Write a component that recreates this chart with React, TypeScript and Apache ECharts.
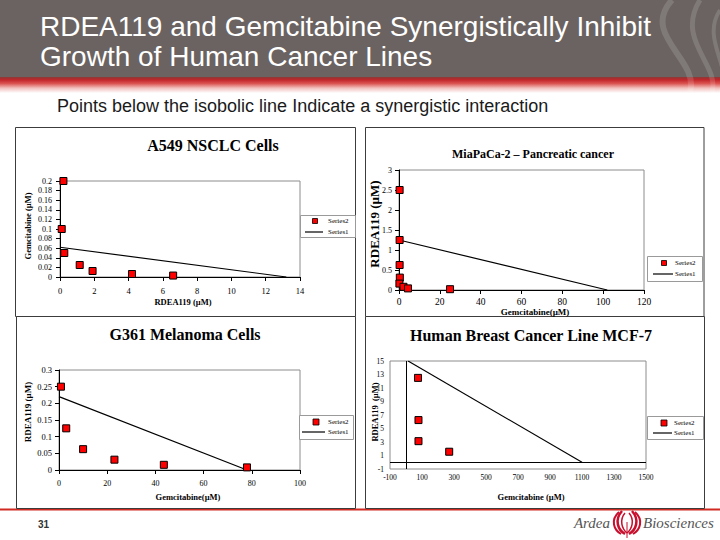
import React, { useEffect, useRef } from "react";
import * as echarts from "echarts";

// ---------- Data ----------
// A549 NSCLC: x = RDEA119 (µM), y = Gemcitabine (µM)
const a549Rdea119 = [0.2, 0.1, 0.25, 1.15, 1.9, 4.2, 6.6];
const a549Gemcitabine = [0.2, 0.1, 0.05, 0.025, 0.0125, 0.00625, 0.003];
const a549IsoboleX = [0, 13.2];
const a549IsoboleY = [0.062, 0];

// MiaPaCa-2: x = Gemcitabine (µM), y = RDEA119 (µM)
const miaGemcitabine = [0.3, 0.3, 0.3, 0.4, 0.2, 2.2, 4.4, 25];
const miaRdea119 = [2.5, 1.25, 0.625, 0.31, 0.16, 0.08, 0.04, 0.02];
const miaIsoboleX = [0, 102];
const miaIsoboleY = [1.25, 0];

// G361 Melanoma: x = Gemcitabine (µM), y = RDEA119 (µM)
const g361Gemcitabine = [0.8, 3, 10, 23, 43.5, 78];
const g361Rdea119 = [0.25, 0.125, 0.0625, 0.031, 0.0156, 0.0078];
const g361IsoboleX = [0, 78];
const g361IsoboleY = [0.22, 0];

// MCF-7: x = Gemcitabine (µM), y = RDEA119 (µM)
const mcfGemcitabine = [75, 78, 78, 270];
const mcfRdea119 = [12.5, 6.25, 3.125, 1.56];
const mcfIsoboleX = [13, 1100];
const mcfIsoboleY = [15, 0];

const panelTitles = [
  "A549 NSCLC Cells",
  "MiaPaCa-2 \u2013 Pancreatic cancer",
  "G361 Melanoma Cells",
  "Human Breast Cancer Line MCF-7",
];
const xAxisNames = ["RDEA119 (\u00b5M)", "Gemcitabine(\u00b5M)", "Gemcitabine(\u00b5M)", "Gemcitabine (\u00b5M)"];
const yAxisNames = ["Gemcitabine (\u00b5M)", "RDEA119 (\u00b5M)", "RDEA119 (\u00b5M)", "RDEA119  (\u00b5M)"];
const seriesNames = ["Series2", "Series1"];

// axis ranges [min, max, interval]
const xRanges = [
  [0, 14, 2],
  [0, 120, 20],
  [0, 100, 20],
  [-100, 1500, 200],
];
const yRanges = [
  [0, 0.2, 0.02],
  [0, 3, 0.5],
  [0, 0.3, 0.05],
  [-1, 15, 2],
];

const slideTitle = ["RDEA119 and Gemcitabine Synergistically Inhibit", "Growth of Human Cancer Lines"];
const subtitle = "Points below the isobolic line Indicate a synergistic interaction";
const pageNumber = "31";

const zip = (xs: number[], ys: number[]) => xs.map((x, i) => [x, ys[i]]);

const SERIF = "Liberation Serif";
const SANS = "Liberation Sans";

const grids = [
  { left: 60, top: 181, width: 240, height: 96 },
  { left: 399, top: 170, width: 245, height: 120 },
  { left: 59, top: 370, width: 241, height: 100 },
  { left: 390, top: 361, width: 256, height: 108 },
];

const labelFont = [
  { x: 8.5, y: 8, xm: 9, ym: 8 },
  { x: 9.5, y: 8, xm: 7, ym: 7 },
  { x: 8, y: 8.5, xm: 9, ym: 7 },
  { x: 7.5, y: 7.5, xm: 4, ym: 6 },
];

function buildOption() {
  const scatterData = [
    zip(a549Rdea119, a549Gemcitabine),
    zip(miaGemcitabine, miaRdea119),
    zip(g361Gemcitabine, g361Rdea119),
    zip(mcfGemcitabine, mcfRdea119),
  ];
  const lineData = [
    zip(a549IsoboleX, a549IsoboleY),
    zip(miaIsoboleX, miaIsoboleY),
    zip(g361IsoboleX, g361IsoboleY),
    zip(mcfIsoboleX, mcfIsoboleY),
  ];

  const fmt = (v: number) => String(Math.round(v * 10000) / 10000);

  const xAxis = xRanges.map((r, i) => ({
    type: "value",
    gridIndex: i,
    min: r[0],
    max: r[1],
    interval: r[2],
    axisLine: { show: i !== 3, onZero: false, lineStyle: { color: "#000", width: 1 } },
    axisTick: { show: i !== 3, inside: false, length: 4, lineStyle: { color: "#000" } },
    splitLine: { show: false },
    axisLabel: {
      color: "#000",
      fontFamily: SERIF,
      fontSize: labelFont[i].x,
      margin: labelFont[i].xm,
      formatter: fmt,
    },
  }));
  const yAxis = yRanges.map((r, i) => ({
    type: "value",
    gridIndex: i,
    min: r[0],
    max: r[1],
    interval: r[2],
    axisLine: { show: i !== 3, onZero: false, lineStyle: { color: "#000", width: 1 } },
    axisTick: { show: i !== 3, inside: false, length: 4, lineStyle: { color: "#000" } },
    splitLine: { show: false },
    axisLabel: {
      color: "#000",
      fontFamily: SERIF,
      fontSize: labelFont[i].y,
      margin: labelFont[i].ym,
      formatter: fmt,
    },
  }));

  const series: any[] = [];
  for (let i = 0; i < 4; i++) {
    series.push({
      name: seriesNames[1],
      type: "line",
      xAxisIndex: i,
      yAxisIndex: i,
      data: lineData[i],
      symbol: "none",
      lineStyle: { color: "#000", width: 1.2 },
      z: 2,
    });
    const sc: any = {
      name: seriesNames[0],
      type: "scatter",
      xAxisIndex: i,
      yAxisIndex: i,
      data: scatterData[i],
      symbol: "rect",
      symbolSize: 7,
      itemStyle: { color: "#ff0000", borderColor: "#000", borderWidth: 1, opacity: 1 },
      z: 3,
    };
    if (i === 3) {
      sc.markLine = {
        silent: true,
        symbol: ["none", "none"],
        label: { show: false },
        lineStyle: { color: "#000", width: 1, type: "solid" },
        data: [{ xAxis: 0 }, { yAxis: 0 }],
      };
    }
    series.push(sc);
  }

  const graphic: any[] = [];

  // header background
  graphic.push({ type: "rect", z: -20, shape: { x: 0, y: 0, width: 720, height: 79 }, style: { fill: "#6b6361" } });
  graphic.push({
    type: "rect",
    z: -20,
    shape: { x: 0, y: 77, width: 720, height: 16 },
    style: {
      fill: new echarts.graphic.LinearGradient(0, 0, 0, 1, [
        { offset: 0, color: "#8a3a37" },
        { offset: 0.18, color: "#c3262a" },
        { offset: 0.4, color: "#d9524f" },
        { offset: 0.7, color: "#f2c2bf" },
        { offset: 1, color: "#ffffff" },
      ]),
    },
  });
  // decorative curves on the right of header
  const curves = [
    { x1: 672, y1: 0, cpx1: 640, cpy1: 35, cpx2: 700, cpy2: 60, x2: 690, y2: 92, w: 6 },
    { x1: 700, y1: 0, cpx1: 675, cpy1: 40, cpx2: 720, cpy2: 65, x2: 712, y2: 92, w: 5 },
    { x1: 720, y1: 10, cpx1: 700, cpy1: 40, cpx2: 735, cpy2: 70, x2: 720, y2: 92, w: 4 },
  ];
  curves.forEach((c) =>
    graphic.push({
      type: "bezierCurve",
      z: -19,
      shape: { x1: c.x1, y1: c.y1, cpx1: c.cpx1, cpy1: c.cpy1, cpx2: c.cpx2, cpy2: c.cpy2, x2: c.x2, y2: c.y2 },
      style: { stroke: "rgba(255,255,255,0.14)", lineWidth: c.w, fill: "none" },
    })
  );
  graphic.push({
    type: "text",
    z: 10,
    x: 40,
    y: 26,
    style: { text: slideTitle[0], font: `28px ${SANS}`, fill: "#ffffff", textVerticalAlign: "middle" },
  });
  graphic.push({
    type: "text",
    z: 10,
    x: 40,
    y: 56,
    style: { text: slideTitle[1], font: `28px ${SANS}`, fill: "#ffffff", textVerticalAlign: "middle" },
  });
  graphic.push({
    type: "text",
    z: 10,
    x: 57,
    y: 106,
    style: { text: subtitle, font: `18px ${SANS}`, fill: "#1a1a1a", textVerticalAlign: "middle" },
  });

  // footer red line
  graphic.push({ type: "rect", z: -20, shape: { x: 0, y: 508.5, width: 720, height: 2 }, style: { fill: "#d02a22" } });

  // panel frames
  const frames = [
    { x: 15.5, y: 127.5, w: 340, h: 189 },
    { x: 365.5, y: 127.5, w: 338.5, h: 189 },
    { x: 16.5, y: 316.5, w: 339, h: 192 },
    { x: 365.5, y: 316.5, w: 339, h: 192 },
  ];
  frames.forEach((f) =>
    graphic.push({
      type: "rect",
      z: -15,
      shape: { x: f.x, y: f.y, width: f.w, height: f.h },
      style: { fill: "#ffffff", stroke: "#3c3c3c", lineWidth: 1 },
    })
  );

  // panel titles
  const titlePos = [
    { x: 213, y: 145, size: 16 },
    { x: 533, y: 154, size: 12 },
    { x: 185, y: 334, size: 16 },
    { x: 531, y: 335, size: 16 },
  ];
  titlePos.forEach((t, i) =>
    graphic.push({
      type: "text",
      z: 10,
      x: t.x,
      y: t.y,
      style: {
        text: panelTitles[i],
        font: `bold ${t.size}px ${SERIF}`,
        fill: "#000",
        textAlign: "center",
        textVerticalAlign: "middle",
      },
    })
  );

  // axis names
  const xNamePos = [
    { x: 183, y: 302, size: 8.5 },
    { x: 535, y: 311.5, size: 9 },
    { x: 188, y: 497, size: 8.5 },
    { x: 531, y: 497, size: 8.5 },
  ];
  const yNamePos = [
    { x: 28, y: 226, size: 8.5 },
    { x: 374, y: 224, size: 13 },
    { x: 28, y: 412, size: 9 },
    { x: 375, y: 412, size: 8.5 },
  ];
  xNamePos.forEach((t, i) =>
    graphic.push({
      type: "text",
      z: 10,
      x: t.x,
      y: t.y,
      style: {
        text: xAxisNames[i],
        font: `bold ${t.size}px ${SERIF}`,
        fill: "#000",
        textAlign: "center",
        textVerticalAlign: "middle",
      },
    })
  );
  yNamePos.forEach((t, i) =>
    graphic.push({
      type: "text",
      z: 10,
      x: t.x,
      y: t.y,
      rotation: Math.PI / 2,
      style: {
        text: yAxisNames[i],
        font: `bold ${t.size}px ${SERIF}`,
        fill: "#000",
        textAlign: "center",
        textVerticalAlign: "middle",
      },
    })
  );

  // legends
  const legends = [
    { x: 300, y: 215, w: 55, h: 22, mx: 315, my: 221, ms: 5, lx1: 305, lx2: 323, ly: 232, tx: 328 },
    { x: 647, y: 256, w: 55, h: 25, mx: 664, my: 263, ms: 5, lx1: 653, lx2: 673, ly: 274, tx: 675 },
    { x: 299, y: 415, w: 54, h: 24, mx: 316, my: 422, ms: 6, lx1: 302, lx2: 325, ly: 432, tx: 328 },
    { x: 647, y: 416, w: 56, h: 23, mx: 664, my: 423, ms: 6, lx1: 653, lx2: 672, ly: 433, tx: 674 },
  ];
  legends.forEach((l) => {
    graphic.push({
      type: "rect",
      z: 10,
      shape: { x: l.x + 0.5, y: l.y + 0.5, width: l.w, height: l.h },
      style: { fill: "#fff", stroke: "#9a9a9a", lineWidth: 1 },
    });
    graphic.push({
      type: "rect",
      z: 11,
      shape: { x: l.mx - l.ms / 2, y: l.my - l.ms / 2, width: l.ms, height: l.ms },
      style: { fill: "#ff0000", stroke: "#000", lineWidth: 0.8 },
    });
    graphic.push({
      type: "line",
      z: 11,
      shape: { x1: l.lx1, y1: l.ly, x2: l.lx2, y2: l.ly },
      style: { stroke: "#000", lineWidth: 1.2 },
    });
    graphic.push({
      type: "text",
      z: 11,
      x: l.tx,
      y: l.my,
      style: { text: seriesNames[0], font: `7px ${SERIF}`, fill: "#000", textVerticalAlign: "middle" },
    });
    graphic.push({
      type: "text",
      z: 11,
      x: l.tx,
      y: l.ly,
      style: { text: seriesNames[1], font: `7px ${SERIF}`, fill: "#000", textVerticalAlign: "middle" },
    });
  });

  // footer page number + logo
  graphic.push({
    type: "text",
    z: 10,
    x: 38,
    y: 524,
    style: { text: pageNumber, font: `bold 10px ${SANS}`, fill: "#333", textVerticalAlign: "middle" },
  });
  graphic.push({
    type: "text",
    z: 10,
    x: 610,
    y: 523,
    style: { text: "Ardea", font: `italic 15px ${SERIF}`, fill: "#555", textAlign: "right", textVerticalAlign: "middle" },
  });
  graphic.push({
    type: "text",
    z: 10,
    x: 643,
    y: 523,
    style: { text: "Biosciences", font: `italic 15px ${SERIF}`, fill: "#555", textVerticalAlign: "middle" },
  });
  const flame = [
    { x1: 619, y1: 512, cpx1: 610, cpy1: 520, cpx2: 614, cpy2: 530, x2: 621, y2: 534, w: 2 },
    { x1: 622, y1: 511, cpx1: 614, cpy1: 520, cpx2: 618, cpy2: 530, x2: 625, y2: 534, w: 2.5 },
    { x1: 625, y1: 513, cpx1: 619, cpy1: 520, cpx2: 622, cpy2: 529, x2: 627, y2: 533, w: 1.5 },
    { x1: 635, y1: 512, cpx1: 644, cpy1: 520, cpx2: 640, cpy2: 530, x2: 633, y2: 534, w: 2 },
    { x1: 632, y1: 511, cpx1: 640, cpy1: 520, cpx2: 636, cpy2: 530, x2: 629, y2: 534, w: 2.5 },
    { x1: 629, y1: 513, cpx1: 635, cpy1: 520, cpx2: 632, cpy2: 529, x2: 627, y2: 533, w: 1.5 },
  ];
  flame.forEach((c) =>
    graphic.push({
      type: "bezierCurve",
      z: 10,
      shape: { x1: c.x1, y1: c.y1, cpx1: c.cpx1, cpy1: c.cpy1, cpx2: c.cpx2, cpy2: c.cpy2, x2: c.x2, y2: c.y2 },
      style: { stroke: "#c8102e", lineWidth: c.w, fill: "none" },
    })
  );
  graphic.push({
    type: "line",
    z: 10,
    shape: { x1: 627, y1: 522, x2: 627, y2: 538 },
    style: { stroke: "#c8102e", lineWidth: 1 },
  });

  return {
    animation: false,
    backgroundColor: "#ffffff",
    textStyle: { fontFamily: SERIF },
    grid: grids.map((g) => ({
      ...g,
      show: true,
      borderColor: "#8c8c8c",
      borderWidth: 1,
      backgroundColor: "transparent",
      containLabel: false,
    })),
    xAxis,
    yAxis,
    series,
    graphic: { elements: graphic },
  };
}

export default function App() {
  const ref = useRef<HTMLDivElement>(null);
  useEffect(() => {
    if (!ref.current) return;
    const chart = echarts.init(ref.current, null, { renderer: "svg" });
    chart.setOption(buildOption() as any);
    return () => chart.dispose();
  }, []);
  return (
    <div
      ref={ref}
      style={{ position: "absolute", left: 0, top: 0, width: 720, height: 540, background: "#fff" }}
    />
  );
}
